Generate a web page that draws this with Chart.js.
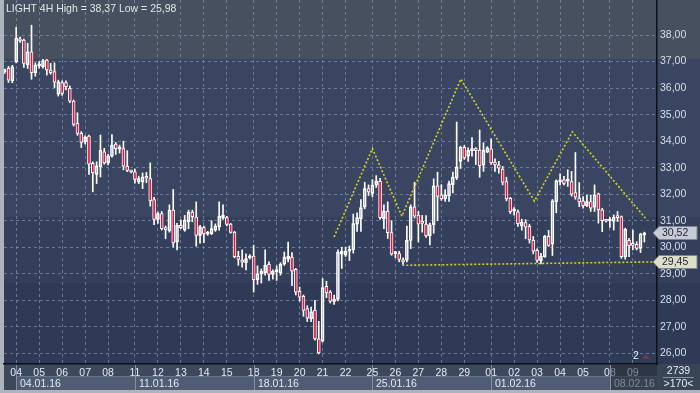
<!DOCTYPE html>
<html>
<head>
<meta charset="utf-8">
<script src="https://cdn.jsdelivr.net/npm/chart.js@4.4.0/dist/chart.umd.min.js"></script>
<style>
  html, body { margin: 0; padding: 0; background: #aeb4bd; overflow: hidden; }
  #wrap { width: 700px; height: 393px; }
</style>
</head>
<body>
<div id="wrap"><canvas id="c" width="700" height="393"></canvas></div>
<script>
const SYMBOL = 'LIGHT';
const TIMEFRAME = '4H';

// 4H candles (index 0 = last bars of 30.12.15)
const openP = [
  36.62,36.74,36.28,36.99,37.85,37.81,36.87,37.37,36.58,36.84, 36.80,37.06,36.68,36.62,35.77,36.21,36.21,35.99,35.51,34.67,
  34.29,33.97,34.19,33.16,32.75,33.03,33.60,33.18,33.43,33.89, 33.70,33.72,33.05,32.86,32.84,32.46,32.46,32.62,32.59,31.80,
  31.05,31.27,30.74,30.62,31.40,30.20,30.83,30.64,30.96,31.33, 31.14,30.45,30.74,30.49,30.51,30.64,30.77,31.10,31.12,30.87,
  30.56,29.66,29.46,29.42,29.60,29.67,28.78,29.00,29.03,29.36, 28.98,29.08,29.03,29.36,29.55,29.63,29.17,28.34,28.15,27.69,
  27.31,27.62,26.55,26.46,28.53,28.31,27.96,28.03,29.74,29.70, 29.85,29.91,30.87,31.07,31.52,32.21,32.03,32.34,32.49,31.08,
  31.36,30.55,29.76,29.76,29.50,29.51,30.26,31.52,31.21,30.93, 30.87,30.43,30.85,32.32,31.98,31.83,31.94,32.36,32.61,33.24,
  33.77,33.43,33.64,33.66,33.66,33.09,33.58,33.71,33.21,33.11, 32.95,32.48,31.84,31.36,31.34,30.80,30.93,30.79,30.26,29.88,
  29.49,29.65,30.41,30.13,31.72,32.46,32.54,32.49,32.48,32.06, 31.85,31.75,31.57,31.72,31.51,32.01,31.41,31.02,30.99,30.97,
  31.16,31.16,29.65,30.26,30.10,30.11,29.96,30.47
];
const highP = [
  36.72,36.82,36.86,38.29,37.92,37.85,37.69,38.37,36.95,37.00, 37.08,37.08,36.93,36.95,36.30,36.27,36.27,36.08,35.55,35.07,
  34.36,34.20,34.23,33.22,33.22,34.23,33.73,33.50,34.25,33.95, 33.85,34.00,33.64,32.90,32.95,32.68,32.80,32.82,33.18,31.88,
  31.33,31.35,30.80,31.60,32.18,30.90,31.03,31.20,31.40,31.40, 31.71,30.83,30.80,30.60,31.00,30.88,31.71,31.60,31.17,30.90,
  30.60,29.85,29.90,29.75,29.72,30.08,29.30,29.18,29.90,29.45, 29.15,29.30,29.42,29.82,30.20,29.80,29.20,28.50,28.20,27.80,
  27.75,28.00,27.21,28.82,28.72,28.37,28.20,29.90,30.00,30.00, 30.05,31.25,31.30,31.80,32.45,32.35,32.55,32.70,32.60,31.60,
  31.71,31.00,29.85,29.85,29.60,30.80,31.60,32.45,31.35,31.20, 31.19,30.91,32.58,32.83,32.36,32.17,32.49,32.83,34.72,33.81,
  33.84,33.75,34.13,33.75,34.42,33.94,33.79,34.09,33.33,33.24, 33.05,32.64,31.88,31.50,31.40,31.06,31.04,30.87,30.41,29.94,
  29.77,30.45,30.64,31.80,32.54,32.77,32.67,32.92,32.86,33.57, 32.44,31.91,31.97,31.97,32.35,32.04,31.47,31.05,31.13,31.22,
  31.35,31.18,30.72,30.34,30.65,30.21,30.53,30.57
];
const lowP = [
  36.55,36.21,36.20,36.95,37.72,36.78,36.74,36.33,36.45,36.75, 36.75,36.49,36.52,36.01,35.70,35.72,35.93,35.45,34.57,34.22,
  33.76,33.90,32.75,32.09,32.40,32.65,33.13,33.10,33.40,33.50, 33.55,32.92,32.85,32.80,32.42,32.40,32.21,32.43,31.55,30.85,
  30.90,30.65,30.32,30.57,30.01,29.90,30.70,30.60,30.70,30.96, 30.04,30.15,30.17,30.45,30.48,30.60,30.64,31.05,30.80,30.53,
  29.60,29.32,29.25,29.15,29.55,28.31,28.60,28.65,28.95,28.75, 28.80,28.75,28.95,29.32,29.45,28.55,28.20,27.97,27.40,27.20,
  27.20,26.50,25.98,26.43,28.10,27.90,27.85,27.98,29.20,29.65, 29.50,29.78,30.60,30.60,31.45,31.95,31.90,32.25,31.05,30.70,
  30.33,29.70,29.60,29.45,29.35,29.45,29.95,31.10,30.20,30.57, 30.37,30.09,30.53,31.00,31.77,31.73,31.73,32.05,32.55,32.97,
  33.31,33.24,33.43,33.12,32.64,32.86,33.56,33.12,32.86,32.79, 32.35,31.75,31.27,31.21,30.79,30.64,30.32,30.16,29.75,29.43,
  29.37,29.62,30.03,29.69,31.30,32.35,32.35,32.29,31.93,31.81, 31.53,31.47,31.53,31.35,31.35,30.91,30.59,30.95,30.75,30.65,
  30.97,29.58,29.55,29.65,29.90,29.90,29.80,30.20
];
const closeP = [
  36.68,36.30,36.80,37.88,37.78,36.93,37.37,36.58,36.87,36.86, 37.04,36.68,36.58,36.22,36.24,35.80,36.05,35.51,34.63,34.29,
  33.95,34.14,33.13,32.80,33.07,33.66,33.18,33.45,33.85,33.72, 33.74,33.06,32.90,32.84,32.56,32.59,32.65,32.60,31.75,31.05,
  31.27,30.70,30.66,31.40,30.16,30.83,30.74,31.02,31.33,31.15, 30.45,30.77,30.50,30.51,30.70,30.80,31.17,31.20,30.86,30.56,
  29.65,29.54,29.44,29.57,29.65,28.78,29.00,29.09,29.32,28.98, 29.10,29.10,29.36,29.63,29.66,29.10,28.31,28.12,27.62,27.33,
  27.58,26.55,26.02,28.48,28.28,27.96,28.05,29.82,29.85,29.86, 29.92,30.89,31.12,31.50,32.21,32.09,32.34,32.49,31.12,31.36,
  30.55,29.74,29.79,29.54,29.45,30.26,31.52,31.17,30.87,30.90, 30.43,30.85,32.32,31.92,31.83,31.98,32.40,32.65,33.03,33.77,
  33.37,33.65,33.67,33.64,33.08,33.65,33.75,33.18,33.10,32.98, 32.44,31.82,31.34,31.38,30.89,30.95,30.76,30.28,29.85,29.50,
  29.66,30.41,30.07,31.75,32.50,32.54,32.41,32.51,32.00,31.89, 31.72,31.57,31.72,31.47,31.97,31.41,31.00,30.98,31.01,31.13,
  31.12,29.65,30.68,30.06,30.07,29.96,30.50,30.52
];

// day grid: candle index where each trading day starts
const dayTickIdx = [3,9,15,21,27, 34,40,46,52,58, 65,71,77,83,89, 96,102,108,114,120, 127,133,139,145,151, 158,164];
const dayTickLabels = ['04','05','06','07','08', '11','12','13','14','15', '18','19','20','21','22',
                       '25','26','27','28','29', '01','02','03','04','05', '08','09'];
const weekStartIdx = [3, 34, 65, 96, 127, 158];
const weekLabels = ['04.01.16', '11.01.16', '18.01.16', '25.01.16', '01.02.16', '08.02.16'];

const priceTicks = [26,27,28,29,30,31,32,33,34,35,36,37,38];

// head & shoulders outline and neckline (x = candle index, y = price)
const patternX = [86.0, 96.0, 103.7, 119.1, 138.3, 148.2, 167.4];
const patternY = [30.39, 33.72, 31.17, 36.34, 31.74, 34.35, 31.08];
const neckX = [103.8, 170.3];
const neckY = [29.32, 29.45];

const barCount = 2739;
const visibleBars = 170;

const RED = '#e5173f';
const fmt = v => v.toFixed(2).replace('.', ',');
const idx = openP.map((_, i) => i);

const frame = {
  id: 'frame',
  beforeDraw(chart) {
    const { ctx, chartArea: a, width, height } = chart;
    ctx.save();
    ctx.fillStyle = '#aeb4bd';
    ctx.fillRect(0, 0, width, height);
    const bands = [[0, 59, '#47505f'], [59, 217, '#3a4661'], [217, 283, '#34405b'], [283, a.bottom, '#2e3a56']];
    bands.forEach(([y0, y1, c]) => { ctx.fillStyle = c; ctx.fillRect(a.left, y0, width - a.left, y1 - y0); });
    ctx.fillStyle = '#3c495d';
    ctx.fillRect(a.left, a.bottom, a.right - a.left, height - 3 - a.bottom);
    ctx.fillStyle = '#394557';
    ctx.fillRect(a.right, a.bottom, width - a.right, height - 3 - a.bottom);
    ctx.restore();
  },
  afterDraw(chart) {
    const { ctx, chartArea: a, width, height } = chart;
    const xs = chart.scales.x, ys = chart.scales.y;
    const bottom = height - 3;
    ctx.save();
    ctx.font = '10.5px "Liberation Sans", Arial, sans-serif';
    ctx.textBaseline = 'middle';

    // title
    ctx.fillStyle = '#e2e6ec';
    ctx.fillText(`${SYMBOL} ${TIMEFRAME} High = ${fmt(Math.max(...highP))} Low = ${fmt(Math.min(...lowP))}`, 6, 9);

    // week boxes under the day numbers
    weekStartIdx.forEach((s, k) => {
      const x0 = Math.round(xs.getPixelForValue(s));
      const x1 = k + 1 < weekStartIdx.length ? Math.round(xs.getPixelForValue(weekStartIdx[k + 1])) : a.right;
      ctx.fillStyle = '#4f5c73';
      ctx.fillRect(x0, 377, x1 - x0, bottom - 377);
      ctx.strokeStyle = '#66738a';
      ctx.lineWidth = 1;
      ctx.beginPath();
      ctx.moveTo(x0, 376.5); ctx.lineTo(x1, 376.5);
      ctx.stroke();
      ctx.strokeStyle = '#8590a4';
      ctx.beginPath();
      ctx.moveTo(x0 + 0.5, a.bottom + 1);
      ctx.lineTo(x0 + 0.5, bottom);
      ctx.stroke();
      ctx.fillStyle = '#e4e9f0';
      ctx.textAlign = 'left';
      ctx.fillText(weekLabels[k], x0 + 4, 384);
    });
    // current (unfinished) week is greyed out
    const lastWeek = Math.round(xs.getPixelForValue(weekStartIdx[weekStartIdx.length - 1]));
    ctx.fillStyle = 'rgba(30,36,48,0.5)';
    ctx.fillRect(lastWeek + 1, a.bottom + 1, a.right - lastWeek - 1, bottom - a.bottom - 1);

    // corner cell
    const cx = (a.right + width) / 2;
    ctx.textAlign = 'center';
    ctx.fillStyle = '#e4e9f0';
    ctx.fillText(String(barCount), cx, 371);
    ctx.fillText('>' + visibleBars + '<', cx, 384);
    ctx.strokeStyle = '#8590a4';
    ctx.beginPath();
    ctx.moveTo(a.right + 6, 377.5); ctx.lineTo(width - 6, 377.5);
    ctx.stroke();

    // marker count near the last day
    const mx = xs.getPixelForValue(dayTickIdx[dayTickIdx.length - 1]) + 3;
    ctx.fillStyle = '#e8ecf2';
    ctx.fillText('2', mx, a.bottom - 8);
    ctx.fillStyle = '#6e3a50';
    ctx.beginPath();
    ctx.moveTo(mx + 6, a.bottom - 5); ctx.lineTo(mx + 10, a.bottom - 10); ctx.lineTo(mx + 14, a.bottom - 5);
    ctx.closePath(); ctx.fill();

    // price markers on the right scale
    const marker = (v, bg) => {
      const y = Math.round(ys.getPixelForValue(v));
      ctx.fillStyle = bg;
      ctx.strokeStyle = '#7e8592';
      ctx.beginPath();
      ctx.moveTo(a.right - 4, y);
      ctx.lineTo(a.right + 2, y - 6.5);
      ctx.lineTo(width - 3, y - 6.5);
      ctx.lineTo(width - 3, y + 6.5);
      ctx.lineTo(a.right + 2, y + 6.5);
      ctx.closePath();
      ctx.fill();
      ctx.stroke();
      ctx.fillStyle = '#1c2334';
      ctx.textAlign = 'left';
      ctx.fillText(fmt(v), a.right + 5, y + 0.5);
    };
    marker(closeP[closeP.length - 1], '#c6cbd4');
    marker(neckY[neckY.length - 1], '#dedfc8');
    ctx.restore();
  }
};

const gridColor = 'rgba(125,140,170,0.75)';

new Chart(document.getElementById('c'), {
  type: 'bar',
  data: {
    datasets: [
      {
        type: 'line', label: 'pattern', order: 0,
        data: patternX.map((x, k) => ({ x, y: patternY[k] })),
        borderColor: '#d3d41d', borderWidth: 1.6, borderDash: [2, 2],
        pointRadius: 0, fill: false, tension: 0
      },
      {
        type: 'line', label: 'neckline', order: 0,
        data: neckX.map((x, k) => ({ x, y: neckY[k] })),
        borderColor: '#d3d41d', borderWidth: 1.6, borderDash: [2, 2],
        pointRadius: 0, fill: false, tension: 0
      },
      {
        label: 'body', order: 1, grouped: false,
        data: idx.map(i => ({ x: i, y: [openP[i], closeP[i]] })),
        backgroundColor: idx.map(i => closeP[i] < openP[i] ? RED : 'rgba(0,0,0,0)'),
        borderColor: '#ffffff', borderWidth: 1, borderSkipped: false,
        barThickness: 3, minBarLength: 2
      },
      {
        label: 'upper wick', order: 2, grouped: false,
        data: idx.map(i => ({ x: i, y: [Math.max(openP[i], closeP[i]), highP[i]] })),
        backgroundColor: '#ffffff', barThickness: 1
      },
      {
        label: 'lower wick', order: 2, grouped: false,
        data: idx.map(i => ({ x: i, y: [lowP[i], Math.min(openP[i], closeP[i])] })),
        backgroundColor: '#ffffff', barThickness: 1
      }
    ]
  },
  options: {
    responsive: false,
    devicePixelRatio: 1,
    animation: false,
    events: [],
    layout: { padding: { left: 4, top: 0, right: 0, bottom: 0 } },
    plugins: { legend: { display: false }, tooltip: { enabled: false } },
    scales: {
      x: {
        type: 'linear', position: 'bottom', min: -0.18, max: 170.3, offset: false,
        afterBuildTicks: s => { s.ticks = dayTickIdx.map(v => ({ value: v })); },
        afterFit: s => { s.height = 29; s.paddingLeft = 0; s.paddingRight = 0; },
        ticks: {
          autoSkip: false, maxRotation: 0, padding: 3,
          color: '#e4e9f0', font: { family: 'Liberation Sans', size: 10.5 },
          callback: (v, i) => dayTickLabels[i]
        },
        grid: { color: gridColor, drawTicks: false, offset: false },
        border: { display: true, color: '#0d1018', width: 1.5, dash: [3, 3] }
      },
      y: {
        type: 'linear', position: 'right', min: 25.6, max: 39.32,
        afterBuildTicks: s => { s.ticks = priceTicks.map(v => ({ value: v })); },
        afterFit: s => { s.width = 43; s.paddingTop = 0; s.paddingBottom = 0; },
        ticks: {
          padding: 3, color: '#d6dfeb', font: { family: 'Liberation Sans', size: 10.5 },
          callback: v => fmt(v)
        },
        grid: { color: gridColor, drawTicks: false },
        border: { display: true, color: '#0d1018', width: 1.5, dash: [3, 3] }
      }
    }
  },
  plugins: [frame]
});
</script>
</body>
</html>
